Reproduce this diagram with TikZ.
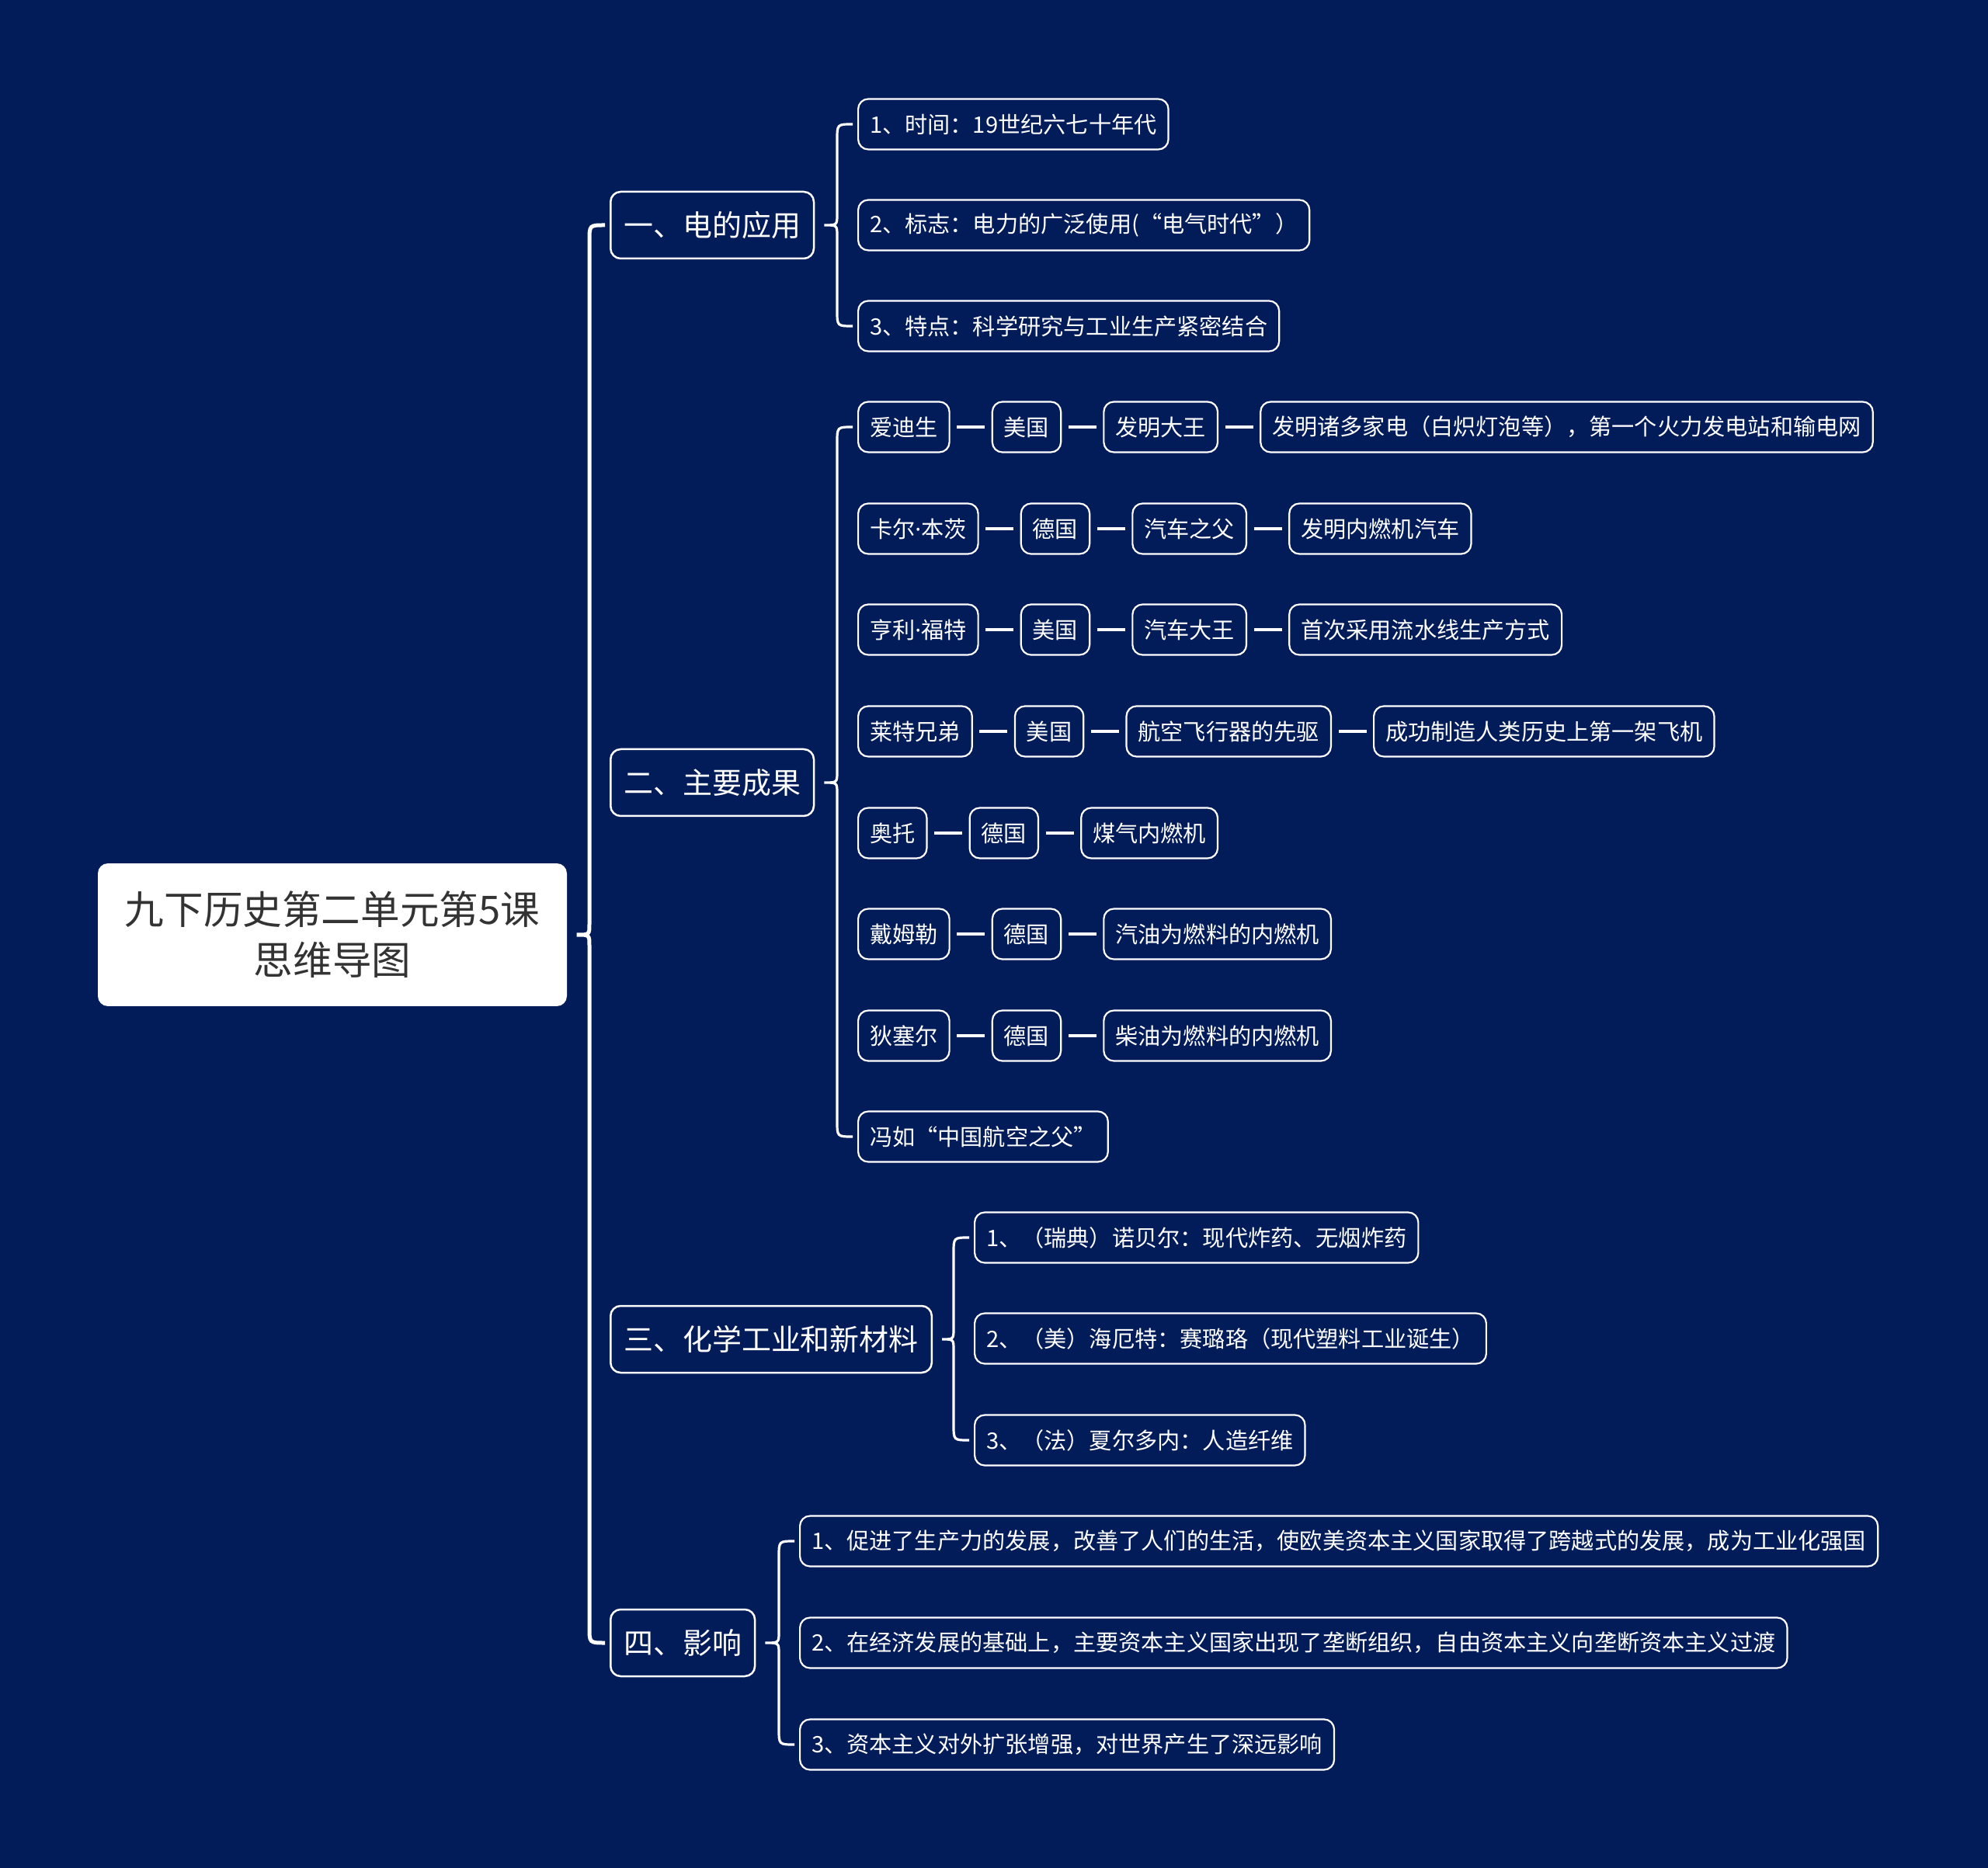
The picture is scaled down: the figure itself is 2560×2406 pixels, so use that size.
\documentclass[tikz,border=0pt]{standalone}
\usepackage{fontspec}
\setmainfont{Noto Sans CJK SC}
\newfontfamily\latinfont{Noto Sans}
\usetikzlibrary{positioning,calc}

\definecolor{navy}{RGB}{2,28,89}
\definecolor{roottext}{RGB}{51,51,51}

\tikzset{
  rootbox/.style={fill=white, text=roottext, rounded corners=1.3mm,
    minimum width=60.4mm, minimum height=18.4mm, align=center,
    font=\fontsize{14.4}{18.5}\selectfont},
  branchbox/.style={draw=white, line width=0.25mm, fill=navy, text=white,
    rounded corners=1.3mm, minimum height=8.6mm, inner xsep=1.7mm,
    font=\fontsize{10.8}{13}\selectfont},
  leafbox/.style={draw=white, line width=0.22mm, fill=navy, text=white,
    rounded corners=1.3mm, minimum height=6.5mm, inner xsep=1.5mm,
    inner ysep=0pt, font=\fontsize{8.3}{10}\selectfont},
  link/.style={white, line width=0.42mm, shorten <=0.85mm, shorten >=0.85mm},
  bracket/.style={white, line width=0.32mm},
}
\newcommand\middot{{\latinfont ·}}

% curly bracket from a parent to its first and last child
\newcommand\drawbracket[4][]{%
  \path ($(#3.west)+(-26,0)$) coordinate (bt)
        ($(#4.west)+(-26,0)$) coordinate (bb)
        ($(#2.east)+(12,0)$) coordinate (bc);
  \draw[bracket,#1] ($(#3.west)+(-6,0)$) .. controls (bt) .. ($(bt)+(0,20)$)
    -- ($(bt|-bc)+(0,-14)$) .. controls (bt|-bc) .. (bc)
    .. controls (bt|-bc) .. ($(bt|-bc)+(0,14)$)
    -- ($(bb)+(0,-20)$) .. controls (bb) .. ($(#4.west)+(-6,0)$);
}

\begin{document}
\begin{tikzpicture}[x=0.1mm, y=-0.1mm, node distance=5.3mm]
\useasboundingbox (0,0) rectangle (2560,2406);
\fill[navy] (0,0) rectangle (2560,2406);

% root and main branches
\node[rootbox] (root) at (428,1204) {九下历史第二单元第5课\\思维导图};
\node[branchbox, anchor=west] (br1) at (785,290) {一、电的应用};
\node[branchbox, anchor=west] (br2) at (785,1008) {二、主要成果};
\node[branchbox, anchor=west] (br3) at (785,1725) {三、化学工业和新材料};
\node[branchbox, anchor=west] (br4) at (785,2116) {四、影响};
\drawbracket[line width=0.5mm]{root}{br1}{br4}

% branch 1
\node[leafbox, anchor=west] (a1) at (1104,160) {1、时间：19世纪六七十年代};
\node[leafbox, anchor=west] (a2) at (1104,290) {2、标志：电力的广泛使用(“电气时代”）};
\node[leafbox, anchor=west] (a3) at (1104,420) {3、特点：科学研究与工业生产紧密结合};
\drawbracket{br1}{a1}{a3}

% branch 2
\node[leafbox, anchor=west] (b11) at (1104,550) {爱迪生};
\node[leafbox, right=of b11] (b12) {美国};
\node[leafbox, right=of b12] (b13) {发明大王};
\node[leafbox, right=of b13] (b14) {发明诸多家电（白炽灯泡等），第一个火力发电站和输电网};
\node[leafbox, anchor=west] (b21) at (1104,681) {卡尔\middot 本茨};
\node[leafbox, right=of b21] (b22) {德国};
\node[leafbox, right=of b22] (b23) {汽车之父};
\node[leafbox, right=of b23] (b24) {发明内燃机汽车};
\node[leafbox, anchor=west] (b31) at (1104,811) {亨利\middot 福特};
\node[leafbox, right=of b31] (b32) {美国};
\node[leafbox, right=of b32] (b33) {汽车大王};
\node[leafbox, right=of b33] (b34) {首次采用流水线生产方式};
\node[leafbox, anchor=west] (b41) at (1104,942) {莱特兄弟};
\node[leafbox, right=of b41] (b42) {美国};
\node[leafbox, right=of b42] (b43) {航空飞行器的先驱};
\node[leafbox, right=of b43] (b44) {成功制造人类历史上第一架飞机};
\node[leafbox, anchor=west] (b51) at (1104,1073) {奥托};
\node[leafbox, right=of b51] (b52) {德国};
\node[leafbox, right=of b52] (b53) {煤气内燃机};
\node[leafbox, anchor=west] (b61) at (1104,1203) {戴姆勒};
\node[leafbox, right=of b61] (b62) {德国};
\node[leafbox, right=of b62] (b63) {汽油为燃料的内燃机};
\node[leafbox, anchor=west] (b71) at (1104,1334) {狄塞尔};
\node[leafbox, right=of b71] (b72) {德国};
\node[leafbox, right=of b72] (b73) {柴油为燃料的内燃机};
\node[leafbox, anchor=west] (b81) at (1104,1464) {冯如“中国航空之父”};
\foreach \a/\b in {b11/b12,b12/b13,b13/b14,b21/b22,b22/b23,b23/b24,
  b31/b32,b32/b33,b33/b34,b41/b42,b42/b43,b43/b44,
  b51/b52,b52/b53,b61/b62,b62/b63,b71/b72,b72/b73}
  \draw[link] (\a.east) -- (\b.west);
\drawbracket{br2}{b11}{b81}

% branch 3
\node[leafbox, anchor=west] (c1) at (1254,1594) {1、（瑞典）诺贝尔：现代炸药、无烟炸药};
\node[leafbox, anchor=west] (c2) at (1254,1724) {2、（美）海厄特：赛璐珞（现代塑料工业诞生）};
\node[leafbox, anchor=west] (c3) at (1254,1855) {3、（法）夏尔多内：人造纤维};
\drawbracket{br3}{c1}{c3}

% branch 4
\node[leafbox, anchor=west] (d1) at (1029,1985) {1、促进了生产力的发展，改善了人们的生活，使欧美资本主义国家取得了跨越式的发展，成为工业化强国};
\node[leafbox, anchor=west] (d2) at (1029,2116) {2、在经济发展的基础上，主要资本主义国家出现了垄断组织，自由资本主义向垄断资本主义过渡};
\node[leafbox, anchor=west] (d3) at (1029,2247) {3、资本主义对外扩张增强，对世界产生了深远影响};
\drawbracket{br4}{d1}{d3}
\end{tikzpicture}
\end{document}
